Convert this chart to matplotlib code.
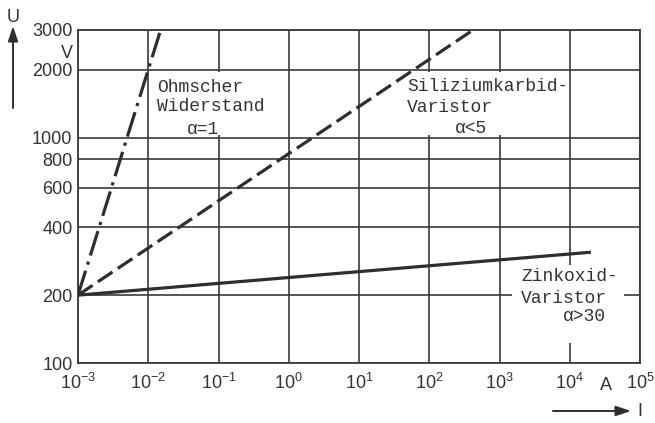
import matplotlib
matplotlib.use("Agg")
import matplotlib.pyplot as plt
from matplotlib.patches import Rectangle

# Strom-Spannungs-Kennlinien (log-log), alle starten bei 1 mA / 200 V
ohm_I = [1e-3, 1.5e-2]
ohm_U = [200, 3000]
sic_I = [1e-3, 420]
sic_U = [200, 3000]
zno_I = [1e-3, 2e4]
zno_U = [200, 310]

x_ticks = [1e-3, 1e-2, 1e-1, 1e0, 1e1, 1e2, 1e3, 1e4, 1e5]
x_labels = [r"$10^{-3}$", r"$10^{-2}$", r"$10^{-1}$", r"$10^{0}$", r"$10^{1}$",
            r"$10^{2}$", r"$10^{3}$", r"$10^{4}$", r"$10^{5}$"]
y_ticks = [100, 200, 400, 600, 800, 1000, 2000, 3000]
y_labels = ["100", "200", "400", "600", "800", "1000", "2000", "3000"]

INK = "#2e2e2e"
GRID = "#3a3a3a"
SANS = "Liberation Sans"
MONO = "Liberation Mono"

plt.rcParams["mathtext.fontset"] = "custom"
plt.rcParams["mathtext.rm"] = SANS
plt.rcParams["mathtext.it"] = SANS

fig = plt.figure(figsize=(6.55, 4.23), dpi=100)
ax = fig.add_axes([78 / 655, 1 - 363 / 423, 562 / 655, 333 / 423])
ax.set_xscale("log")
ax.set_yscale("log")
ax.set_xlim(1e-3, 1e5)
ax.set_ylim(100, 3000)

ax.set_xticks(x_ticks)
ax.set_xticklabels(x_labels)
ax.set_yticks(y_ticks)
ax.set_yticklabels(y_labels)
ax.minorticks_off()
ax.tick_params(length=0, colors=INK, labelsize=13)
ax.tick_params(axis="x", pad=7)
ax.tick_params(axis="y", pad=4)
for lab in ax.get_xticklabels() + ax.get_yticklabels():
    lab.set_fontfamily(SANS)
    lab.set_color("#333333")

ax.set_axisbelow(True)
ax.grid(True, which="major", color=GRID, linewidth=1.2)
for sp in ax.spines.values():
    sp.set_color(GRID)
    sp.set_linewidth(1.3)

# white backgrounds behind the curve labels (grid cut out there)
label_boxes = [
    ((1.15e-2, 1030), (0.7, 1950)),
    ((14, 1030), (8.5e3, 1950)),
    ((1.5e3, 123), (5.9e4, 272)),
]
for (x0, y0), (x1, y1) in label_boxes:
    ax.add_patch(Rectangle((x0, y0), x1 - x0, y1 - y0, facecolor="white",
                           edgecolor="none", zorder=1))

lw = 2.3
ax.plot(ohm_I, ohm_U, color=INK, lw=lw, linestyle=(0, (8, 2, 1, 2)),
        dash_capstyle="butt", zorder=3)
ax.plot(sic_I, sic_U, color=INK, lw=lw, linestyle=(0, (5.5, 2)),
        dash_capstyle="butt", zorder=3)
ax.plot(zno_I, zno_U, color=INK, lw=lw, solid_capstyle="butt", zorder=3)

txt = dict(fontfamily=MONO, fontsize=13, color="#333333", va="center",
           ha="left", zorder=4)
ax.text(0.0133, 1660, "Ohmscher", **txt)
ax.text(0.0133, 1367, "Widerstand", **txt)
ax.text(0.035, 1081, "α=1", **txt)
ax.text(48, 1677, "Siliziumkarbid-", **txt)
ax.text(48, 1353, "Varistor", **txt)
ax.text(233, 1092, "α<5", **txt)
ax.text(2020, 241, "Zinkoxid-", **txt)
ax.text(2020, 194, "Varistor", **txt)
ax.text(8000, 160, "α>30", **txt)

# units and axis arrows
fig.text(67 / 655, 1 - 54 / 423, "V", fontfamily=SANS, fontsize=13,
         color="#333333", ha="center", va="center")
fig.text(606 / 655, 1 - 385 / 423, "A", fontfamily=SANS, fontsize=13,
         color="#333333", ha="center", va="center")
fig.text(13 / 655, 1 - 17 / 423, "U", fontfamily=SANS, fontsize=13,
         color="#333333", ha="center", va="center")
fig.text(640 / 655, 1 - 411 / 423, "I", fontfamily=SANS, fontsize=13,
         color="#333333", ha="center", va="center")
arrow = dict(arrowstyle="-|>,head_length=0.9,head_width=0.3", color=INK,
             lw=1.4, shrinkA=0, shrinkB=0)
ax.annotate("", xy=(13, 423 - 26), xytext=(13, 423 - 108),
            xycoords="figure pixels", textcoords="figure pixels",
            arrowprops=arrow, annotation_clip=False)
ax.annotate("", xy=(631, 423 - 411), xytext=(553, 423 - 411),
            xycoords="figure pixels", textcoords="figure pixels",
            arrowprops=arrow, annotation_clip=False)

fig.savefig("out.png", dpi=100)
